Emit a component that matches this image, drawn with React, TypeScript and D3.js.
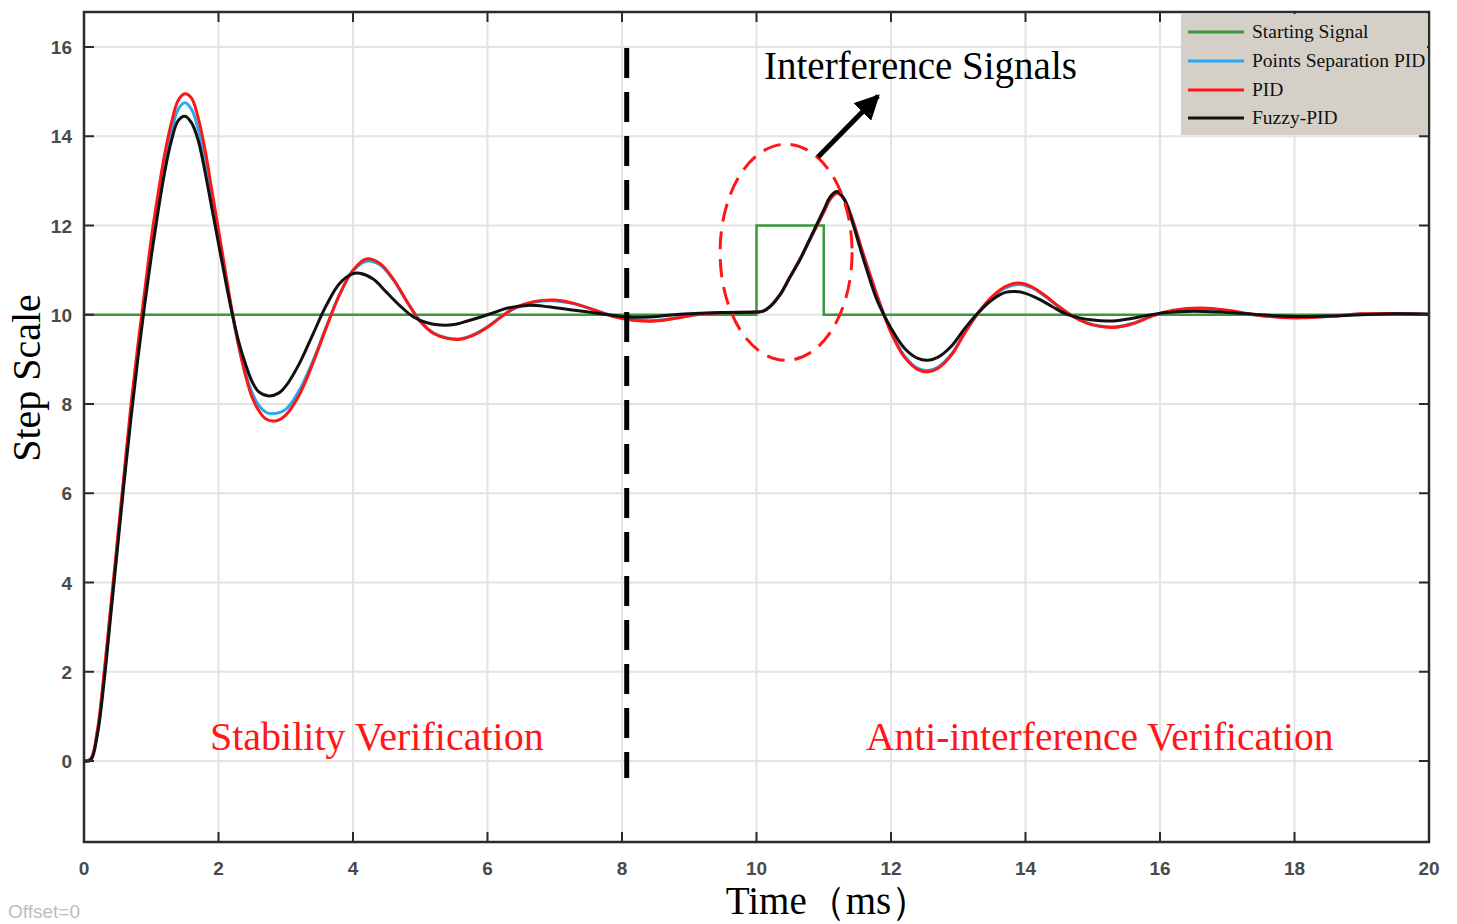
import React from "react";
import * as d3 from "d3";

const width = 1457;
const height = 924;
const plotLeft = 84;
const plotRight = 1429;
const plotTop = 12;
const plotBottom = 842;

const xTicks = [0, 2, 4, 6, 8, 10, 12, 14, 16, 18, 20];
const yTicks = [0, 2, 4, 6, 8, 10, 12, 14, 16];

// Starting signal (step with a disturbance pulse)
const startingSignal: [number, number][] = [
  [0, 10], [10, 10], [10, 12], [11, 12], [11, 10], [20, 10],
];

// PID response
const pid: [number, number][] = [
  [0, 0], [0.1, 0.05], [0.2, 0.7], [0.3, 2.0], [0.4, 3.5], [0.5, 5.0], [0.6, 6.5],
  [0.7, 8.0], [0.8, 9.3], [0.9, 10.5], [1.0, 11.7], [1.1, 12.7], [1.2, 13.6],
  [1.3, 14.3], [1.4, 14.8], [1.5, 14.95], [1.6, 14.85], [1.7, 14.4], [1.8, 13.7],
  [1.9, 12.8], [2.0, 11.9], [2.1, 11.0], [2.2, 10.1], [2.3, 9.3], [2.4, 8.65],
  [2.5, 8.15], [2.6, 7.85], [2.7, 7.67], [2.85, 7.62], [3.0, 7.75], [3.2, 8.2],
  [3.4, 8.9], [3.6, 9.7], [3.8, 10.45], [4.0, 11.0], [4.2, 11.25], [4.4, 11.15],
  [4.6, 10.8], [4.8, 10.3], [5.0, 9.85], [5.2, 9.58], [5.4, 9.47], [5.6, 9.45],
  [5.8, 9.55], [6.0, 9.72], [6.2, 9.95], [6.4, 10.15], [6.7, 10.3], [7.0, 10.33],
  [7.3, 10.25], [7.6, 10.1], [7.9, 9.95], [8.2, 9.87], [8.5, 9.86], [8.8, 9.92],
  [9.1, 10.0], [9.5, 10.05], [10.0, 10.06], [10.1, 10.08], [10.2, 10.18],
  [10.35, 10.45], [10.5, 10.85], [10.65, 11.25], [10.8, 11.7], [11.0, 12.3], [11.1, 12.6],
  [11.2, 12.72], [11.3, 12.6], [11.4, 12.25], [11.6, 11.3], [11.8, 10.4],
  [12.0, 9.6], [12.2, 9.05], [12.4, 8.77], [12.55, 8.72], [12.7, 8.8], [12.9, 9.1],
  [13.1, 9.6], [13.3, 10.05], [13.5, 10.4], [13.7, 10.63], [13.9, 10.71],
  [14.1, 10.62], [14.3, 10.42], [14.5, 10.18], [14.7, 9.97], [14.9, 9.82],
  [15.1, 9.74], [15.35, 9.72], [15.6, 9.8], [15.9, 9.98], [16.2, 10.1],
  [16.6, 10.15], [17.0, 10.1], [17.4, 10.0], [17.8, 9.94], [18.1, 9.93],
  [18.5, 9.96], [19.0, 10.02], [19.5, 10.03], [20.0, 10.01],
];

// Points separation PID response
const pointsSepPid: [number, number][] = [
  [0, 0], [0.1, 0.04], [0.2, 0.65], [0.3, 1.9], [0.4, 3.4], [0.5, 4.9], [0.6, 6.4],
  [0.7, 7.85], [0.8, 9.15], [0.9, 10.35], [1.0, 11.5], [1.1, 12.5], [1.2, 13.4],
  [1.3, 14.1], [1.4, 14.6], [1.5, 14.75], [1.6, 14.6], [1.7, 14.15], [1.8, 13.45],
  [1.9, 12.6], [2.0, 11.75], [2.1, 10.9], [2.2, 10.05], [2.3, 9.3], [2.4, 8.7],
  [2.5, 8.25], [2.6, 7.97], [2.7, 7.82], [2.8, 7.78], [3.0, 7.88], [3.2, 8.3],
  [3.4, 8.95], [3.6, 9.72], [3.8, 10.45], [4.0, 10.98], [4.2, 11.2], [4.4, 11.12],
  [4.6, 10.78], [4.8, 10.3], [5.0, 9.86], [5.2, 9.59], [5.4, 9.48], [5.6, 9.46],
  [5.8, 9.56], [6.0, 9.73], [6.2, 9.95], [6.4, 10.14], [6.7, 10.28], [7.0, 10.31],
  [7.3, 10.24], [7.6, 10.1], [7.9, 9.96], [8.2, 9.88], [8.5, 9.87], [8.8, 9.93],
  [9.1, 10.0], [9.5, 10.05], [10.0, 10.06], [10.1, 10.08], [10.2, 10.18],
  [10.35, 10.45], [10.5, 10.85], [10.65, 11.25], [10.8, 11.7], [11.0, 12.3], [11.1, 12.6],
  [11.2, 12.72], [11.3, 12.6], [11.4, 12.25], [11.6, 11.3], [11.8, 10.4],
  [12.0, 9.62], [12.2, 9.08], [12.4, 8.8], [12.55, 8.75], [12.7, 8.83], [12.9, 9.12],
  [13.1, 9.6], [13.3, 10.05], [13.5, 10.38], [13.7, 10.6], [13.9, 10.68],
  [14.1, 10.6], [14.3, 10.4], [14.5, 10.17], [14.7, 9.97], [14.9, 9.83],
  [15.1, 9.75], [15.35, 9.73], [15.6, 9.81], [15.9, 9.98], [16.2, 10.09],
  [16.6, 10.14], [17.0, 10.09], [17.4, 10.0], [17.8, 9.95], [18.1, 9.94],
  [18.5, 9.96], [19.0, 10.02], [19.5, 10.03], [20.0, 10.01],
];

// Fuzzy-PID response
const fuzzyPid: [number, number][] = [
  [0, 0], [0.1, 0.02], [0.2, 0.6], [0.3, 1.8], [0.4, 3.3], [0.5, 4.8], [0.6, 6.3],
  [0.7, 7.7], [0.8, 9.0], [0.9, 10.2], [1.0, 11.3], [1.1, 12.3], [1.2, 13.2],
  [1.3, 13.9], [1.4, 14.35], [1.5, 14.45], [1.6, 14.3], [1.7, 13.9], [1.8, 13.2],
  [1.9, 12.4], [2.0, 11.6], [2.1, 10.8], [2.2, 10.05], [2.3, 9.4], [2.4, 8.9],
  [2.5, 8.5], [2.6, 8.27], [2.75, 8.18], [2.9, 8.25], [3.0, 8.4], [3.2, 8.9],
  [3.4, 9.55], [3.6, 10.2], [3.8, 10.7], [4.0, 10.92], [4.1, 10.93], [4.3, 10.8],
  [4.5, 10.5], [4.7, 10.2], [4.9, 9.95], [5.1, 9.82], [5.3, 9.77], [5.5, 9.78],
  [5.7, 9.86], [5.9, 9.95], [6.1, 10.05], [6.3, 10.15], [6.6, 10.21], [6.9, 10.18],
  [7.2, 10.12], [7.5, 10.06], [7.8, 10.0], [8.1, 9.95], [8.4, 9.95], [8.7, 9.99],
  [9.0, 10.02], [9.5, 10.05], [10.0, 10.06], [10.1, 10.08], [10.2, 10.18],
  [10.35, 10.45], [10.5, 10.85], [10.65, 11.25], [10.8, 11.72], [11.0, 12.35], [11.1, 12.65],
  [11.2, 12.76], [11.3, 12.6], [11.4, 12.2], [11.6, 11.2], [11.8, 10.3],
  [12.0, 9.7], [12.2, 9.25], [12.4, 9.02], [12.55, 8.98], [12.7, 9.05], [12.9, 9.3],
  [13.1, 9.7], [13.3, 10.05], [13.5, 10.33], [13.7, 10.5], [13.85, 10.52],
  [14.0, 10.48], [14.2, 10.35], [14.4, 10.18], [14.6, 10.02], [14.8, 9.93],
  [15.0, 9.88], [15.25, 9.86], [15.5, 9.9], [15.8, 9.98], [16.1, 10.05],
  [16.5, 10.08], [16.9, 10.06], [17.3, 10.02], [17.7, 9.98], [18.1, 9.96],
  [18.5, 9.97], [19.0, 10.0], [19.5, 10.02], [20.0, 10.01],
];

const legendItems = [
  { label: "Starting Signal", color: "#3b973b" },
  { label: "Points Separation PID", color: "#29a8f2" },
  { label: "PID", color: "#ff1616" },
  { label: "Fuzzy-PID", color: "#111111" },
];

const serif = "'Liberation Serif', 'Times New Roman', serif";
const sans = "'Liberation Sans', Arial, sans-serif";

export default function App() {
  const x = d3.scaleLinear().domain([0, 20]).range([plotLeft, plotRight]);
  const y = d3.scaleLinear().domain([0, 16]).range([761, 47]);

  const smooth = d3
    .line<[number, number]>()
    .x((d) => x(d[0]))
    .y((d) => y(d[1]))
    .curve(d3.curveCatmullRom.alpha(0.5));
  const straight = d3
    .line<[number, number]>()
    .x((d) => x(d[0]))
    .y((d) => y(d[1]));

  const tick = 10;

  return (
    <div style={{ position: "absolute", left: 0, top: 0 }}>
      <svg width={width} height={height} viewBox={`0 0 ${width} ${height}`}>
        <rect width={width} height={height} fill="#fff" />
        {/* grid */}
        <g stroke="#e3e3e3" strokeWidth={2}>
          {xTicks.slice(1, -1).map((t) => (
            <line key={t} x1={x(t)} x2={x(t)} y1={plotTop} y2={plotBottom} />
          ))}
          {yTicks.map((t) => (
            <line key={t} x1={plotLeft} x2={plotRight} y1={y(t)} y2={y(t)} />
          ))}
        </g>

        {/* series */}
        <path d={straight(startingSignal)!} fill="none" stroke={legendItems[0].color} strokeWidth={2.5} />
        <path d={smooth(pointsSepPid)!} fill="none" stroke={legendItems[1].color} strokeWidth={3} />
        <path d={smooth(pid)!} fill="none" stroke={legendItems[2].color} strokeWidth={3} />
        <path d={smooth(fuzzyPid)!} fill="none" stroke={legendItems[3].color} strokeWidth={3} />

        {/* frame and ticks */}
        <rect
          x={plotLeft}
          y={plotTop}
          width={plotRight - plotLeft}
          height={plotBottom - plotTop}
          fill="none"
          stroke="#2b2b2b"
          strokeWidth={2.5}
        />
        <g stroke="#2b2b2b" strokeWidth={2}>
          {xTicks.map((t) => (
            <g key={t}>
              <line x1={x(t)} x2={x(t)} y1={plotBottom} y2={plotBottom - tick} />
              <line x1={x(t)} x2={x(t)} y1={plotTop} y2={plotTop + tick} />
            </g>
          ))}
          {yTicks.map((t) => (
            <g key={t}>
              <line x1={plotLeft} x2={plotLeft + tick} y1={y(t)} y2={y(t)} />
              <line x1={plotRight} x2={plotRight - tick} y1={y(t)} y2={y(t)} />
            </g>
          ))}
        </g>
        <g fontFamily={sans} fontSize={19} fill="#4a4a4a" fontWeight="bold">
          {xTicks.map((t) => (
            <text key={t} x={x(t)} y={875} textAnchor="middle">
              {t}
            </text>
          ))}
          {yTicks.map((t) => (
            <text key={t} x={72} y={y(t) + 7} textAnchor="end">
              {t}
            </text>
          ))}
        </g>

        {/* axis titles */}
        <text
          transform="translate(40,378) rotate(-90)"
          textAnchor="middle"
          fontFamily={serif}
          fontSize={40}
          fill="#000"
        >
          Step Scale
        </text>
        <text x={828} y={914} textAnchor="middle" fontFamily={serif} fontSize={39} fill="#000">
          Time（ms）
        </text>
        <text x={8} y={918} fontFamily={sans} fontSize={19} fill="#bdbdbd">
          Offset=0
        </text>

        {/* divider */}
        <line
          x1={x(8.07)}
          x2={x(8.07)}
          y1={48}
          y2={778}
          stroke="#000"
          strokeWidth={5}
          strokeDasharray="30 14"
        />

        {/* interference annotation */}
        <ellipse
          cx={x(10.44)}
          cy={y(11.4)}
          rx={66}
          ry={108}
          fill="none"
          stroke="#ff1616"
          strokeWidth={3}
          strokeDasharray="18 10"
        />
        <defs>
          <marker id="arrow" viewBox="0 0 10 10" refX={9} refY={5} markerWidth={5} markerHeight={5} orient="auto">
            <path d="M0,0 L10,5 L0,10 Z" fill="#000" />
          </marker>
        </defs>
        <line
          x1={818}
          y1={157}
          x2={878}
          y2={96}
          stroke="#000"
          strokeWidth={5}
          markerEnd="url(#arrow)"
        />
        <text x={764} y={79} fontFamily={serif} fontSize={39} fill="#000">
          Interference Signals
        </text>
        <text x={210} y={750} fontFamily={serif} fontSize={40} fill="#ff1616">
          Stability Verification
        </text>
        <text x={866} y={750} fontFamily={serif} fontSize={39.5} fill="#ff1616">
          Anti-interference Verification
        </text>

        {/* legend */}
        <rect x={1181} y={14} width={246} height={121} fill="#d4d0c8" />
        {legendItems.map((d, i) => {
          const ly = [32, 61, 90, 118][i];
          return (
            <g key={d.label}>
              <line x1={1188} x2={1244} y1={ly} y2={ly} stroke={d.color} strokeWidth={3} />
              <text x={1252} y={ly + 6} fontFamily={serif} fontSize={19.5} fill="#111">
                {d.label}
              </text>
            </g>
          );
        })}
      </svg>
    </div>
  );
}
